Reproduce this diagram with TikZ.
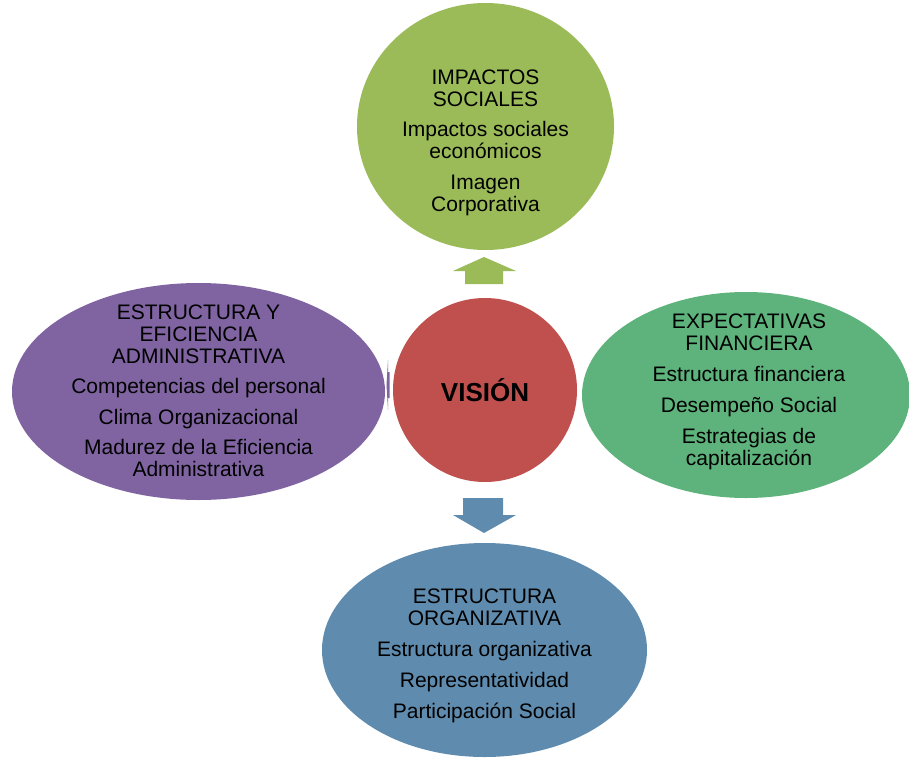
\documentclass[tikz,border=0pt]{standalone}
\usepackage{fontspec}
\setmainfont{Liberation Sans}
\usetikzlibrary{positioning,shapes}
\definecolor{verdeimp}{HTML}{9BBB59}
\definecolor{rojovis}{HTML}{C0504D}
\definecolor{moradoest}{HTML}{8064A2}
\definecolor{verdeexp}{HTML}{5DB37B}
\definecolor{azulorg}{HTML}{5F8CAE}
\tikzstyle{burbuja}=[
	ellipse,
	draw=none,
	inner sep=0]
\tikzstyle{texto}=[
	align=center,
	inner sep=0,
	text=black,
	font=\fontsize{21}{22}\selectfont]
\tikzstyle{flecha}=[
	draw=none]

\begin{document}
\begin{tikzpicture}[x=1pt,y=-1pt]
	\useasboundingbox (0,0) rectangle (909,757);
	\clip (0,0) rectangle (909,757);
	% burbujas
	\node[burbuja,fill=verdeimp,minimum width=257,minimum height=247] (impactos) at (485.5,126.5) {};
	\node[burbuja,fill=moradoest,minimum width=373,minimum height=217] (eficiencia) at (198.5,391.5) {};
	\node[burbuja,fill=verdeexp,minimum width=328,minimum height=206] (expectativas) at (746,395) {};
	\node[burbuja,fill=azulorg,minimum width=325,minimum height=214] (organizativa) at (484.5,650) {};
	\node[circle,fill=rojovis,minimum size=184,inner sep=0,font=\bfseries\fontsize{26}{28}\selectfont] (vision) at (485,390) {VISIÓN};
	% textos
	\node[texto] (impactos texto) at ([yshift=-16pt]impactos.center) {IMPACTOS\\SOCIALES\\[8.5pt]Impactos sociales\\económicos\\[8.5pt]Imagen\\Corporativa};
	\node[texto] (eficiencia texto) at ([yshift=0.5pt]eficiencia.center) {ESTRUCTURA Y\\EFICIENCIA\\ADMINISTRATIVA\\[8.5pt]Competencias del personal\\[8.5pt]Clima Organizacional\\[8.5pt]Madurez de la Eficiencia\\Administrativa};
	\node[texto] (expectativas texto) at ([xshift=3pt,yshift=3pt]expectativas.center) {EXPECTATIVAS\\FINANCIERA\\[8.8pt]Estructura financiera\\[8.8pt]Desempeño Social\\[8.8pt]Estrategias de\\capitalización};
	\node[texto] (organizativa texto) at ([yshift=-6pt]organizativa.center) {ESTRUCTURA\\ORGANIZATIVA\\[8.8pt]Estructura organizativa\\[8.8pt]Representatividad\\[8.8pt]Participación Social};
	% flechas
	\fill[flecha,verdeimp] (484,257) -- (516,271) -- (503,271) -- (503,284) -- (465,284) -- (465,271) -- (453,271) -- cycle;
	\fill[flecha,azulorg] (463,498) -- (503,498) -- (503,515) -- (516,515) -- (484,533) -- (453,515) -- (463,515) -- cycle;
	\fill[flecha,moradoest] (386.5,385) -- (388,360) -- (388,372) -- (389.5,372) -- (389.5,398) -- (388,398) -- (388,410) -- cycle;
\end{tikzpicture}
\end{document}
